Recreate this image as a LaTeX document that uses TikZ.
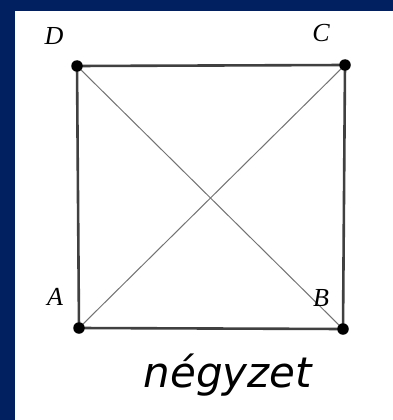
\documentclass[tikz,border=0pt]{standalone}
\usepackage{fontspec}
\newfontfamily\lblfont{Liberation Serif}
\newfontfamily\capfont{DejaVu Sans}
\definecolor{navy}{RGB}{0,32,96}
\begin{document}
\begin{tikzpicture}[x=1pt,y=-1pt,
  side/.style={draw=black!75,line width=2.6pt},
  diag/.style={draw=black!55,line width=1pt},
  vtx/.style={circle,fill=black,inner sep=0pt,minimum size=11.5pt},
  lbl/.style={font=\lblfont\itshape\fontsize{26}{26}\selectfont,inner sep=0pt}]
\useasboundingbox (0,0) rectangle (393,420);
\fill[navy] (0,0) rectangle (393,420);
\fill[white] (15,11) rectangle (393,420);
\coordinate (A) at (79,328);
\coordinate (B) at (343,329);
\coordinate (C) at (345,65);
\coordinate (D) at (77,66);
\draw[diag] (A) -- (C);
\draw[diag] (D) -- (B);
\draw[side] (A) -- (B) -- (C) -- (D) -- cycle;
\node[vtx] (vA) at (A) {};
\node[vtx] (vB) at (B) {};
\node[vtx] (vC) at (C) {};
\node[vtx] (vD) at (D) {};
\node[lbl] (lD) at (54,36) {D};
\node[lbl] (lC) at (321,33) {C};
\node[lbl] (lA) at (55,297) {A};
\node[lbl] (lB) at (321,298) {B};
\node[font=\capfont\itshape\fontsize{42}{42}\selectfont,inner sep=0pt] (cap) at (228,375) {négyzet};
\end{tikzpicture}
\end{document}
